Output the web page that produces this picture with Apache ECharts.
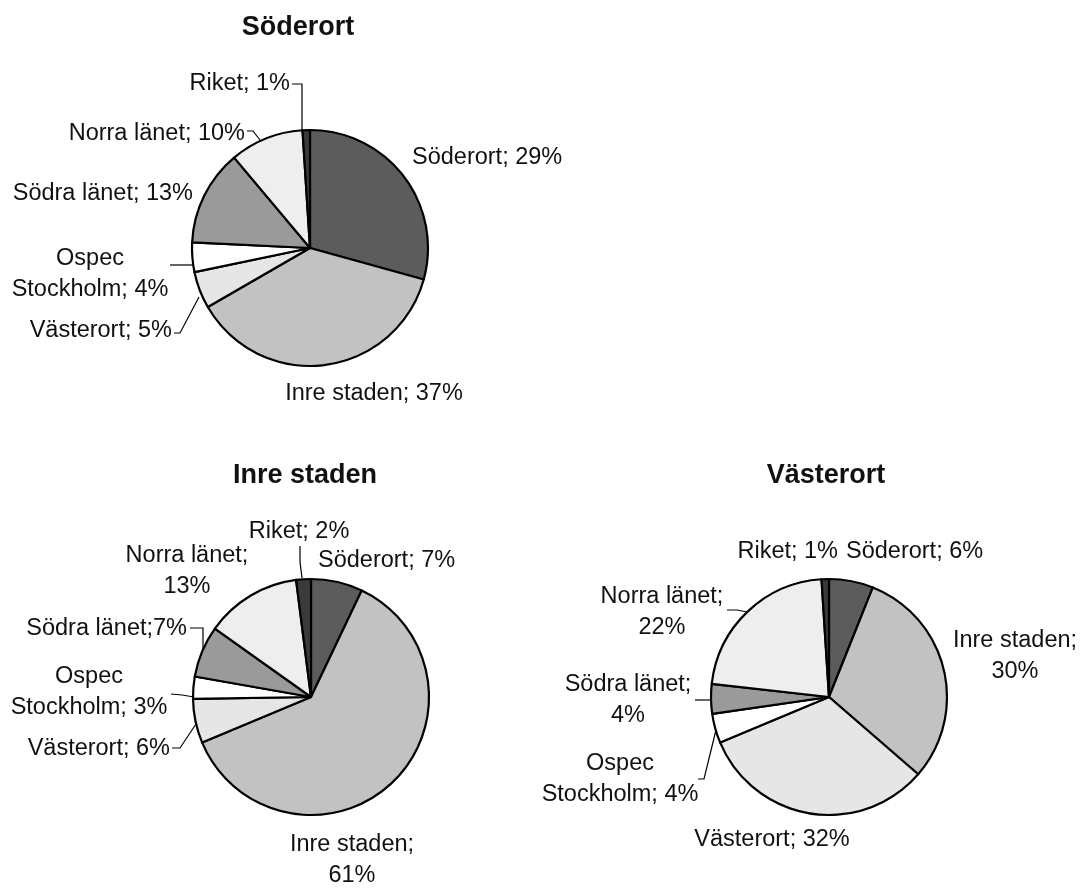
<!DOCTYPE html>
<html>
<head>
<meta charset="utf-8">
<script src="https://cdn.jsdelivr.net/npm/echarts@6/dist/echarts.min.js"></script>
<style>
  html, body { margin: 0; background: #fff; }
  #chart { width: 1081px; height: 890px; }
</style>
</head>
<body>
<div id="chart"></div>
<script>
// share of each origin, per district (percent)
const categories = ['Söderort', 'Inre staden', 'Västerort', 'Ospec Stockholm', 'Södra länet', 'Norra länet', 'Riket']
const soderortValues = [29, 37, 5, 4, 13, 10, 1]
const inreStadenValues = [7, 61, 6, 3, 7, 13, 2]
const vasterortValues = [6, 30, 32, 4, 4, 22, 1]
const pieTitles = ['Söderort', 'Inre staden', 'Västerort']

const sliceColors = ['#5c5c5c', '#c2c2c2', '#e6e6e6', '#ffffff', '#9a9a9a', '#eeeeee', '#3a3a3a']

// pie placement and label placement (Excel-like manual label spots)
const pies = [
  { center: [310, 248], title: [298, 28], values: soderortValues },
  { center: [311, 697], title: [305, 476], values: inreStadenValues },
  { center: [829, 697], title: [826, 476], values: vasterortValues }
]

const labelSpots = [
  [
    { x: 412, y: 158, align: 'left' },
    { x: 374, y: 394, align: 'center' },
    { x: 172, y: 331, align: 'right', line: [[174, 333], [180, 333], [199, 297]] },
    { x: 90, y: 274, align: 'center', br: 'name', line: [[170, 265], [182, 265], [194, 265]] },
    { x: 193, y: 194, align: 'right' },
    { x: 245, y: 134, align: 'right', line: [[247, 131], [253, 131], [260, 140]] },
    { x: 290, y: 84, align: 'right', line: [[292, 84], [302, 84], [302, 130]] }
  ],
  [
    { x: 318, y: 561, align: 'left' },
    { x: 352, y: 860, align: 'center', br: 'after' },
    { x: 170, y: 749, align: 'right', line: [[172, 748], [180, 748], [196, 724]] },
    { x: 89, y: 692, align: 'center', br: 'name', line: [[171, 694], [182, 695], [194, 697]] },
    { x: 187, y: 629, align: 'right', tight: true, line: [[190, 628], [203, 628], [203, 650]] },
    { x: 187, y: 571, align: 'center', br: 'after' },
    { x: 299, y: 532, align: 'center', line: [[300, 546], [300, 562], [302, 578]] }
  ],
  [
    { x: 846, y: 552, align: 'left' },
    { x: 1015, y: 656, align: 'center', br: 'after' },
    { x: 772, y: 840, align: 'center' },
    { x: 620, y: 779, align: 'center', br: 'name', line: [[698, 779], [704, 779], [716, 730]] },
    { x: 628, y: 700, align: 'center', br: 'after', line: [[695, 700], [705, 700], [715, 700]] },
    { x: 662, y: 612, align: 'center', br: 'after', line: [[727, 610], [737, 610], [747, 612]] },
    { x: 838, y: 552, align: 'right' }
  ]
]

const FONT = "'Liberation Sans', Arial, sans-serif"

const formatLabel = (spot, name, value) => {
  const sep = spot.tight ? ';' : '; '
  if (spot.br === 'name') return name.replace(' ', '\n') + sep + value + '%'
  if (spot.br === 'after') return name + ';\n' + value + '%'
  return name + sep + value + '%'
}

const chart = echarts.init(document.getElementById('chart'))

const series = pies.map((pie, i) => ({
  type: 'pie',
  center: pie.center,
  radius: 118,
  startAngle: 90,
  clockwise: true,
  avoidLabelOverlap: false,
  silent: true,
  animation: false,
  data: categories.map((name, k) => ({
    name,
    value: pie.values[k],
    itemStyle: { color: sliceColors[k] },
    labelLine: { show: !!labelSpots[i][k].line }
  })),
  itemStyle: { borderColor: '#000', borderWidth: 2.2 },
  label: {
    show: true,
    position: 'outside',
    fontFamily: FONT,
    fontSize: 23.5,
    lineHeight: 31,
    color: '#111',
    formatter: (p) => formatLabel(labelSpots[i][p.dataIndex], p.name, p.value)
  },
  labelLine: { show: true, length: 8, length2: 8, lineStyle: { color: '#000', width: 1.2 } },
  labelLayout: (params) => {
    const spot = labelSpots[i][params.dataIndex]
    const out = { x: spot.x, y: spot.y, align: spot.align, verticalAlign: 'middle' }
    if (spot.line) out.labelLinePoints = spot.line
    return out
  }
}))

chart.setOption({
  backgroundColor: '#fff',
  animation: false,
  title: pies.map((pie, i) => ({
    text: pieTitles[i],
    left: pie.title[0],
    top: pie.title[1],
    padding: 0,
    textAlign: 'center',
    textVerticalAlign: 'middle',
    textStyle: { fontFamily: FONT, fontSize: 27, fontWeight: 'bold', color: '#111' }
  })),
  series
})
</script>
</body>
</html>
